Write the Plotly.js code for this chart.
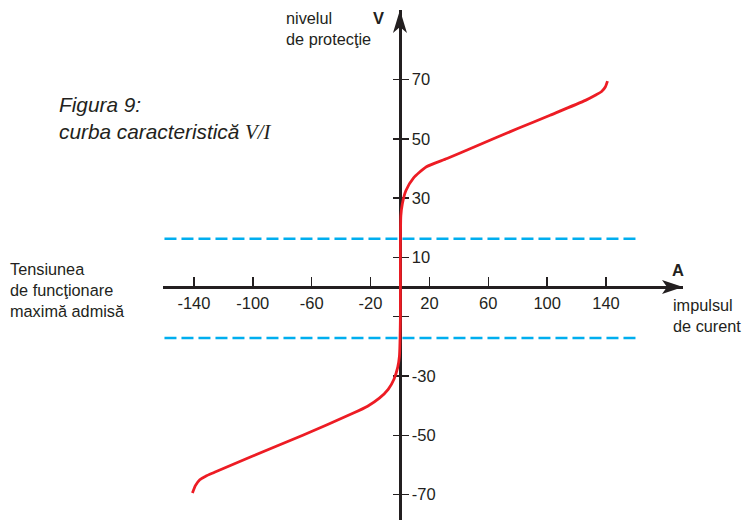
<!DOCTYPE html>
<html>
<head>
<meta charset="utf-8">
<script src="https://cdn.plot.ly/plotly-3.0.1.min.js"></script>
<style>html,body{margin:0;padding:0;background:#fff;}#chart{width:745px;height:520px;}</style>
</head>
<body>
<div id="chart"></div>
<script>
// ---- data ----
const curveX = [-141, -139, -136, -132, -126, -100, -66, -32, -22, -14, -8, -4, -1.5, -0.4, 0.3, 0.3, 0.6, 1.6, 4, 9, 18, 32, 50, 80, 102, 126, 133, 137, 139.5, 141];
const curveY = [-69.5, -67, -65, -63.8, -62.5, -57, -50, -42.6, -40.2, -37.5, -34.5, -31, -27, -23.5, -10, 10, 24, 28, 32.5, 36.7, 40.6, 43.4, 47.2, 53.5, 58, 63, 64.8, 66, 67.5, 69.5];
const limitX = [-160, 161];
const limitUpper = [16.3, 16.3];
const limitLower = [-17.2, -17.2];
const xTickVals = [-140, -100, -60, -20, 20, 60, 100, 140];
const xTickText = ['-140', '-100', '-60', '-20', '20', '60', '100', '140'];
const yTickVals = [70, 50, 30, 10, -10, -30, -50, -70];
const yTickText = ['70', '50', '30', '10', '', '-30', '-50', '-70'];

// ---- layout ----
const W = 745, H = 520;
const M = {l: 163, r: 62, t: 10, b: 0};
const xRange = [-161, 192.3];
const yRange = [-78.6, 93.5];
const ink = '#231f20';
const xPos = (0 - yRange[0]) / (yRange[1] - yRange[0]);
const yPos = (0 - xRange[0]) / (xRange[1] - xRange[0]);
const P = (px, py) => ({x: (px - M.l) / (W - M.l - M.r), y: (H - M.b - py) / (H - M.t - M.b)});
const FONT = 'Liberation Sans, Arial, sans-serif';

const traces = [
  {x: limitX, y: limitUpper, mode: 'lines', yaxis: 'y2', line: {color: '#00aeef', width: 2.5, dash: '12px,5px'}, hoverinfo: 'skip'},
  {x: limitX, y: limitLower, mode: 'lines', yaxis: 'y2', line: {color: '#00aeef', width: 2.5, dash: '12px,5px'}, hoverinfo: 'skip'},
  {x: curveX, y: curveY, mode: 'lines', line: {color: '#ed1c24', width: 2.8, shape: 'spline', smoothing: 0.6}, hoverinfo: 'skip'}
];

function ann(px, py, text, opts) {
  const p = P(px, py);
  return Object.assign({xref: 'paper', yref: 'paper', x: p.x, y: p.y, text: text, showarrow: false,
    xanchor: 'left', yanchor: 'middle', align: 'left', font: {family: FONT, size: 16.3, color: ink}}, opts || {});
}

const layout = {
  width: W, height: H, margin: M, paper_bgcolor: '#fff', plot_bgcolor: '#fff', showlegend: false,
  font: {family: FONT, color: ink},
  xaxis: {range: xRange, anchor: 'free', position: xPos, showline: true, linecolor: ink, linewidth: 3,
    showgrid: false, zeroline: false, ticks: 'inside', ticklen: 9, tickwidth: 1.5, tickcolor: ink,
    tickmode: 'array', tickvals: xTickVals, ticktext: xTickText, layer: 'below traces',
    tickfont: {family: FONT, size: 16.5, color: ink}},
  yaxis: {range: yRange, anchor: 'free', position: yPos, side: 'right', showline: true, linecolor: ink, linewidth: 2.6,
    showgrid: false, zeroline: false, ticks: 'outside', ticklen: 7, tickwidth: 1.5, tickcolor: ink,
    tickmode: 'array', tickvals: yTickVals, ticktext: yTickText, layer: 'below traces',
    tickfont: {family: FONT, size: 16.5, color: ink}},
  yaxis2: {range: yRange, overlaying: 'y', anchor: 'free', position: yPos, side: 'left', showline: false,
    showgrid: false, zeroline: false, ticks: 'outside', ticklen: 7, tickwidth: 1.5, tickcolor: ink,
    tickmode: 'array', tickvals: yTickVals, showticklabels: false, layer: 'below traces'},
  shapes: [
    {type: 'path', xref: 'x', yref: 'y', xsizemode: 'pixel', ysizemode: 'pixel', xanchor: xRange[1], yanchor: 0,
      path: 'M0,0 L-21,7 L-16,0 L-21,-7 Z', fillcolor: ink, line: {width: 0}},
    {type: 'path', xref: 'x', yref: 'y', xsizemode: 'pixel', ysizemode: 'pixel', xanchor: 0, yanchor: yRange[1],
      path: 'M0,0 L-7,-23 L0,-17 L7,-23 Z', fillcolor: ink, line: {width: 0}}
  ],
  annotations: [
    ann(284, 7, 'nivelul<br>de protecţie', {yanchor: 'top'}),
    ann(378, 18, '<b>V</b>', {xanchor: 'center', font: {family: FONT, size: 16.5, color: ink}}),
    ann(57, 91, '<i>Figura 9:</i><br><i>curba caracteristică </i><span style="font-family:\'Liberation Serif\',serif"><i>V/I</i></span>', {yanchor: 'top', font: {family: FONT, size: 20.8, color: ink}}),
    ann(8, 258, 'Tensiunea<br>de funcţionare<br>maximă admisă', {yanchor: 'top'}),
    ann(678, 270, '<b>A</b>', {xanchor: 'center', font: {family: FONT, size: 16.5, color: ink}}),
    ann(671, 294, 'impulsul<br>de curent', {yanchor: 'top'})
  ]
};

Plotly.newPlot('chart', traces, layout, {displayModeBar: false, staticPlot: true});
</script>
</body>
</html>
